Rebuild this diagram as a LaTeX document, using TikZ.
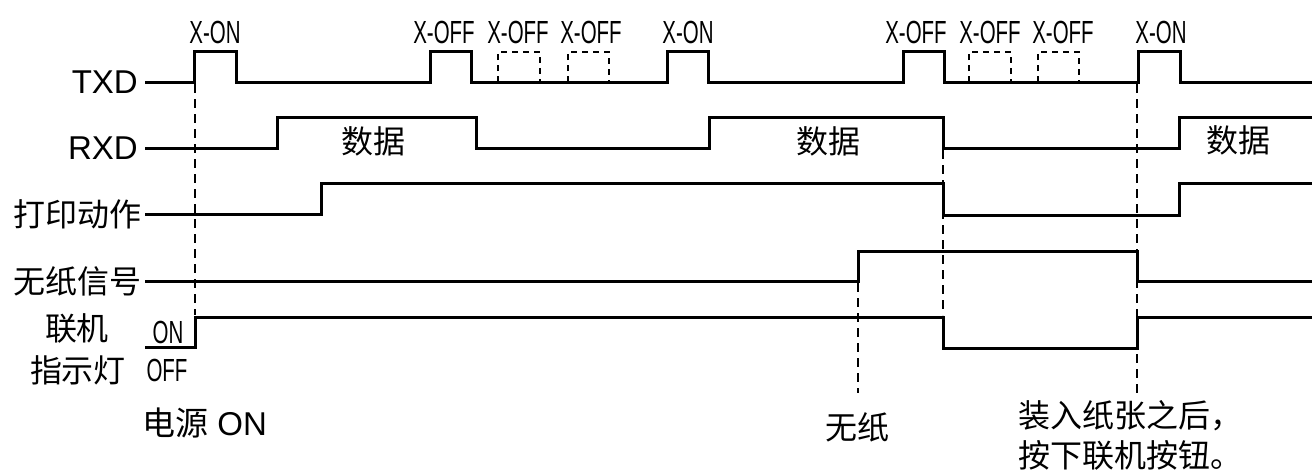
\documentclass[tikz,border=0pt]{standalone}
\usepackage{fontspec}
\setmainfont{Liberation Sans}
\newfontfamily\cjk{Noto Sans CJK SC}
\newfontfamily\narrow[FakeStretch=0.64]{Liberation Sans}
\tikzset{
  sig/.style={line width=3pt},
  guide/.style={line width=2pt, dash pattern=on 9pt off 6pt},
  ghost/.style={line width=2.5pt, dash pattern=on 6pt off 5pt},
  lbl/.style={inner sep=0pt, font=\fontsize{33}{36}\selectfont},
  zh/.style={inner sep=0pt, font=\fontsize{32}{36}\selectfont\cjk},
  code/.style={inner sep=0pt, font=\fontsize{32}{34}\selectfont\narrow}
}
\begin{document}
\begin{tikzpicture}[x=1pt, y=-1pt]
  \useasboundingbox (0,0) rectangle (1312,471);
  % signal names
  \node[lbl, anchor=east] (txd) at (138,82) {TXD};
  \node[lbl, anchor=east] (rxd) at (138,148) {RXD};
  \node[zh, anchor=east] (print) at (142,214) {打印动作};
  \node[zh, anchor=east] (nopaper) at (142,281) {无纸信号};
  \node[zh] (online1) at (77,328) {联机};
  \node[zh] (online2) at (78,370) {指示灯};
  \node[code] (on) at (168,332) {ON};
  \node[code] (off) at (167,370) {OFF};
  % codes above TXD
  \node[code] (xon1) at (215,32) {X-ON};
  \node[code] (xoff1) at (444,32) {X-OFF};
  \node[code] (xoff2) at (518,32) {X-OFF};
  \node[code] (xoff3) at (591,32) {X-OFF};
  \node[code] (xon2) at (688,32) {X-ON};
  \node[code] (xoff4) at (916,32) {X-OFF};
  \node[code] (xoff5) at (990,32) {X-OFF};
  \node[code] (xoff6) at (1063,32) {X-OFF};
  \node[code] (xon3) at (1161,32) {X-ON};
  % data on RXD
  \node[zh] (data1) at (373,141) {数据};
  \node[zh] (data2) at (828,141) {数据};
  \node[zh] (data3) at (1238,140) {数据};
  % events
  \node[lbl, anchor=west] (power) at (142,423) {{\cjk 电源} ON};
  \node[zh] (empty) at (857,427) {无纸};
  \node[zh, anchor=west] (load1) at (1018,416) {装入纸张之后，};
  \node[zh, anchor=west] (load2) at (1018,455) {按下联机按钮。};
  % waveforms
  \draw[sig] (145,82) -- (194,82) -- (194,51) -- (236,51) -- (236,82)
    -- (430,82) -- (430,51) -- (471,51) -- (471,82)
    -- (667,82) -- (667,51) -- (708,51) -- (708,82)
    -- (903,82) -- (903,51) -- (944,51) -- (944,82)
    -- (1138,82) -- (1138,51) -- (1180,51) -- (1180,82) -- (1312,82);
  \draw[sig] (145,148) -- (277,148) -- (277,117) -- (476,117) -- (476,148)
    -- (709,148) -- (709,117) -- (943,117) -- (943,148)
    -- (1179,148) -- (1179,117) -- (1312,117);
  \draw[sig] (145,214) -- (321,214) -- (321,183) -- (943,183) -- (943,215)
    -- (1179,215) -- (1179,183) -- (1312,183);
  \draw[sig] (145,281) -- (858,281) -- (858,251) -- (1137,251) -- (1137,281)
    -- (1312,281);
  \draw[sig] (145,347) -- (195,347) -- (195,317) -- (943,317) -- (943,348)
    -- (1137,348) -- (1137,317) -- (1312,317);
  % repeated X-OFF
  \draw[ghost] (498,82) -- (498,52) -- (540,52) -- (540,82);
  \draw[ghost] (568,82) -- (568,52) -- (609,52) -- (609,82);
  \draw[ghost] (969,82) -- (969,52) -- (1011,52) -- (1011,82);
  \draw[ghost] (1038,82) -- (1038,52) -- (1079,52) -- (1079,82);
  % guides
  \draw[guide] (195,84) -- (195,315);
  \draw[guide] (858,283) -- (858,393);
  \draw[guide] (943,150) -- (943,315);
  \draw[guide] (1137,84) -- (1137,393);
\end{tikzpicture}
\end{document}
